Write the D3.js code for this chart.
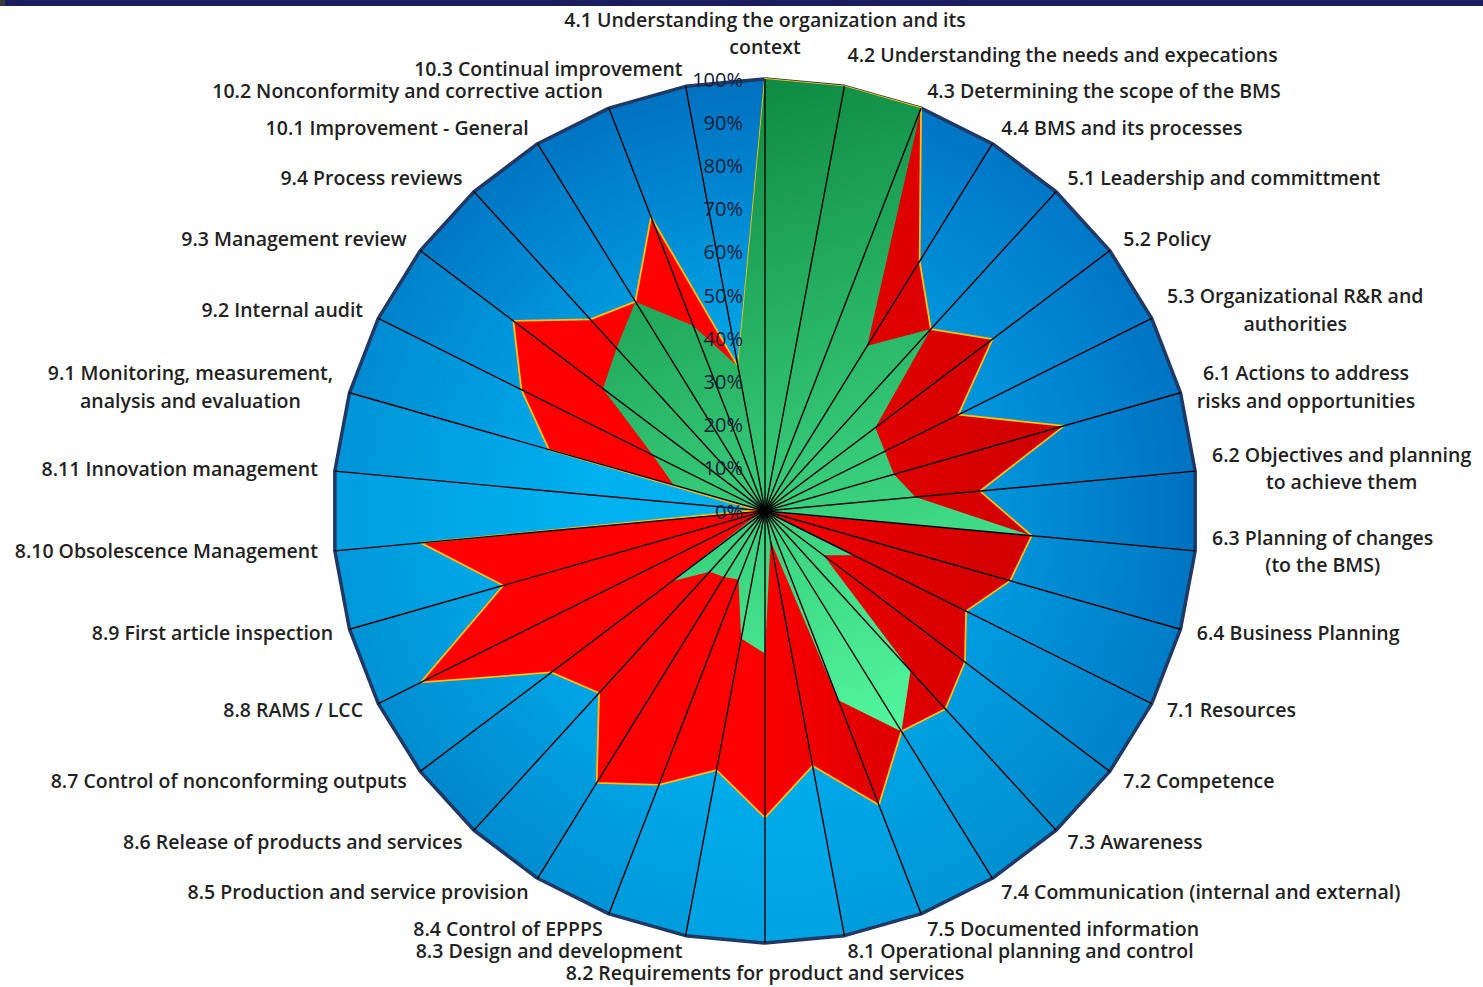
<!DOCTYPE html>
<html>
<head>
<meta charset="utf-8">
<script src="https://cdn.jsdelivr.net/npm/d3@7"></script>
<style>
  body { margin: 0; background: #fff; }
  #chart text { font-family: "Open Sans", sans-serif; }
</style>
</head>
<body>
<div id="chart"></div>
<script>
// categories (clockwise from the top), "\n" = line break in the label
const categories = [
  "4.1 Understanding the organization and its\ncontext",
  "4.2 Understanding the needs and expecations",
  "4.3 Determining the scope of the BMS",
  "4.4 BMS and its processes",
  "5.1 Leadership and committment",
  "5.2 Policy",
  "5.3 Organizational R&R and\nauthorities",
  "6.1 Actions to address\nrisks and opportunities",
  "6.2 Objectives and planning\nto achieve them",
  "6.3 Planning of changes\n(to the BMS)",
  "6.4 Business Planning",
  "7.1 Resources",
  "7.2 Competence",
  "7.3 Awareness",
  "7.4 Communication (internal and external)",
  "7.5 Documented information",
  "8.1 Operational planning and control",
  "8.2 Requirements for product and services",
  "8.3 Design and development",
  "8.4 Control of EPPPS",
  "8.5 Production and service provision",
  "8.6 Release of products and services",
  "8.7 Control of nonconforming outputs",
  "8.8 RAMS / LCC",
  "8.9 First article inspection",
  "8.10 Obsolescence Management",
  "8.11 Innovation management",
  "9.1 Monitoring, measurement,\nanalysis and evaluation",
  "9.2 Internal audit",
  "9.3 Management review",
  "9.4 Process reviews",
  "10.1 Improvement - General",
  "10.2 Nonconformity and corrective action",
  "10.3 Continual improvement"
];

// series values in %
const blueValues = [100, 100, 100, 100, 100, 100, 100, 100, 100, 100, 100, 100, 100, 100, 100, 100, 100,
                    100, 100, 100, 100, 100, 100, 100, 100, 100, 100, 100, 100, 100, 100, 100, 100, 100];
const redValues = [100, 100, 100, 68, 57, 66, 50, 72, 50, 62, 59, 52, 58, 62, 60, 73, 60,
                   71, 61, 68, 74, 57, 62, 89, 63, 80, 2, 52, 63, 73, 60, 57, 73, 34];
const greenValues = [100, 100, 100, 45, 57, 32, 31, 31, 35, 62, 1, 23, 17, 50, 60, 47, 7,
                     33, 30, 17, 18, 19, 27, 2, 0, 0, 0, 22, 29, 47, 51, 57, 46, 34];

const tickValues = [0, 10, 20, 30, 40, 50, 60, 70, 80, 90, 100];
const tickLabels = ["0%", "10%", "20%", "30%", "40%", "50%", "60%", "70%", "80%", "90%", "100%"];

function radar() {
  const width = 1483;
  const height = 987;
  const cx = 765;
  const cy = 511;
  const radius = 432;
  const n = categories.length;

  const svg = d3.select("#chart")
    .append("svg")
    .attr("width", width)
    .attr("height", height);

  // dark strip at the top of the slide
  svg.append("rect").attr("width", width).attr("height", 6).attr("fill", "#1c1f5f");
  svg.append("rect").attr("width", 5).attr("height", 6).attr("fill", "#3a3a3a");

  const defs = svg.append("defs");

  const g = svg.append("g")
    .attr("transform", `translate(${cx},${cy})`);

  const r = d3.scaleLinear().domain([0, 100]).range([0, radius]);
  const angle = d3.scaleLinear().domain([0, n]).range([0, 2 * Math.PI]);

  const px = (i, v) => r(v) * Math.sin(angle(i));
  const py = (i, v) => -r(v) * Math.cos(angle(i));

  const radial = d3.lineRadial()
    .angle((d, i) => angle(i))
    .radius(d => r(d))
    .curve(d3.curveLinearClosed);

  // blue series: every wedge has its own gradient (center -> rim)
  const outerColor = d3.scaleLinear()
    .domain([0, 45, 90, 135, 180, 225, 270, 315, 360])
    .range(["#0070c0", "#0079c8", "#0070c0", "#008acd", "#00a6e6", "#0086cb", "#009ede", "#0076c5", "#0070c0"]);
  const innerColor = d3.scaleLinear()
    .domain([0, 90, 180, 270, 360])
    .range(["#00a2e4", "#009ee2", "#00b2f0", "#00b2f0", "#00a2e4"]);

  blueValues.forEach((v, i) => {
    const j = (i + 1) % n;
    const midDeg = (angle(i + 0.5) * 180) / Math.PI;
    const grad = defs.append("linearGradient")
      .attr("id", "bw" + i)
      .attr("gradientUnits", "userSpaceOnUse")
      .attr("x1", 0).attr("y1", 0)
      .attr("x2", (px(i, v) + px(j, blueValues[j])) / 2)
      .attr("y2", (py(i, v) + py(j, blueValues[j])) / 2);
    grad.append("stop").attr("offset", 0).attr("stop-color", innerColor(midDeg));
    grad.append("stop").attr("offset", 0.4).attr("stop-color", innerColor(midDeg));
    grad.append("stop").attr("offset", 1).attr("stop-color", outerColor(midDeg));

    g.append("path")
      .attr("d", `M0,0L${px(i, v)},${py(i, v)}L${px(j, blueValues[j])},${py(j, blueValues[j])}Z`)
      .attr("fill", "url(#bw" + i + ")")
      .attr("stroke", "url(#bw" + i + ")")
      .attr("stroke-width", 0.6);
  });

  g.append("path")
    .attr("d", radial(blueValues))
    .attr("fill", "none")
    .attr("stroke", "#1f3864")
    .attr("stroke-width", 3.5)
    .attr("stroke-linejoin", "round");

  // red series
  const redGrad = defs.append("linearGradient")
    .attr("id", "redGrad")
    .attr("gradientUnits", "userSpaceOnUse")
    .attr("x1", -radius).attr("y1", 0)
    .attr("x2", radius).attr("y2", 0);
  redGrad.append("stop").attr("offset", 0).attr("stop-color", "#ff0000");
  redGrad.append("stop").attr("offset", 0.48).attr("stop-color", "#ff0000");
  redGrad.append("stop").attr("offset", 0.62).attr("stop-color", "#e20000");
  redGrad.append("stop").attr("offset", 1).attr("stop-color", "#c00000");

  g.append("path")
    .attr("d", radial(redValues))
    .attr("fill", "url(#redGrad)")
    .attr("stroke", "#ffc000")
    .attr("stroke-width", 1.8)
    .attr("stroke-linejoin", "round");

  // green series
  const greenGrad = defs.append("linearGradient")
    .attr("id", "greenGrad")
    .attr("gradientUnits", "userSpaceOnUse")
    .attr("x1", -50).attr("y1", -radius)
    .attr("x2", 150).attr("y2", 220);
  greenGrad.append("stop").attr("offset", 0).attr("stop-color", "#0d8840");
  greenGrad.append("stop").attr("offset", 1).attr("stop-color", "#52f79e");

  g.append("path")
    .attr("d", radial(greenValues))
    .attr("fill", "url(#greenGrad)")
    .attr("stroke", "none");

  // spokes
  g.selectAll(".spoke")
    .data(categories)
    .enter()
    .append("line")
    .attr("class", "spoke")
    .attr("x1", 0).attr("y1", 0)
    .attr("x2", (d, i) => px(i, 100))
    .attr("y2", (d, i) => py(i, 100))
    .attr("stroke", "#000")
    .attr("stroke-width", 1.4);

  // value axis labels
  g.selectAll(".tick-label")
    .data(tickValues)
    .enter()
    .append("text")
    .attr("class", "tick-label")
    .attr("x", -22)
    .attr("y", d => -r(d))
    .attr("dominant-baseline", "central")
    .attr("text-anchor", "end")
    .attr("font-size", "20px")
    .attr("fill", "#132038")
    .text((d, i) => tickLabels[i]);

  // category labels
  const labelR = radius + 17;
  const lineH = 27.5;
  categories.forEach((c, i) => {
    const a = angle(i);
    const s = Math.sin(a);
    const co = Math.cos(a);
    const ax = labelR * s;
    // 4.2 sits a bit higher in the original
    const ay = -labelR * co - 2 - (i === 1 ? 14 : 0);
    const lines = c.split("\n");

    const t = g.append("text")
      .attr("class", "cat-label")
      .attr("font-size", "19.5px")
      .attr("font-weight", 600)
      .attr("fill", "#222")
      .attr("text-anchor", "middle")
      .attr("dominant-baseline", "central");

    const spans = lines.map(l => t.append("tspan").text(l));
    const blockW = d3.max(spans, sp => sp.node().getComputedTextLength());

    let x0 = ax;
    if (s > 0.01) x0 = ax + blockW / 2;
    if (s < -0.01) x0 = ax - blockW / 2;

    let y0 = ay - ((lines.length - 1) * lineH) / 2;
    if (Math.abs(s) <= 0.01 && co > 0) y0 = ay - lineH / 2 - (lines.length - 1) * lineH;
    if (Math.abs(s) <= 0.01 && co < 0) y0 = ay + lineH / 2;

    spans.forEach((sp, k) => {
      sp.attr("x", x0).attr("y", y0 + k * lineH);
    });
  });
}

radar();
</script>
</body>
</html>
